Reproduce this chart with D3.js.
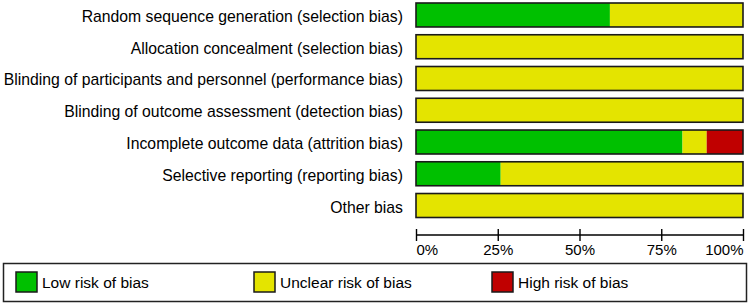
<!DOCTYPE html>
<html>
<head>
<meta charset="utf-8">
<script src="https://cdn.jsdelivr.net/npm/d3@7"></script>
<style>
  html, body { margin: 0; padding: 0; background: #fff; }
  svg { display: block; }
  text { font-family: "Liberation Sans", Arial, sans-serif; fill: #000; }
</style>
</head>
<body>
<svg id="chart" width="750" height="306"></svg>
<script>
// ---- Data (percent of studies) ----
const categories = [
  "Random sequence generation (selection bias)",
  "Allocation concealment (selection bias)",
  "Blinding of participants and personnel (performance bias)",
  "Blinding of outcome assessment (detection bias)",
  "Incomplete outcome data (attrition bias)",
  "Selective reporting (reporting bias)",
  "Other bias"
];
const lowRisk     = [59.3, 0, 0, 0, 81.5, 25.9, 0];
const unclearRisk = [40.7, 100, 100, 100, 7.4, 74.1, 100];
const highRisk    = [0, 0, 0, 0, 11.1, 0, 0];
const tickValues  = [0, 25, 50, 75, 100];
const tickLabels  = ["0%", "25%", "50%", "75%", "100%"];
const seriesKeys  = ["low", "unclear", "high"];
const seriesNames = ["Low risk of bias", "Unclear risk of bias", "High risk of bias"];
const seriesColors = ["#00C000", "#E4E400", "#C00000"];

// ---- Build ----
const rows = categories.map((c, i) => ({
  cat: c, low: lowRisk[i], unclear: unclearRisk[i], high: highRisk[i]
}));
const svg = d3.select("#chart");

const x = d3.scaleLinear().domain([0, 100]).range([416, 743]);
const y = d3.scaleBand().domain(categories).range([3, 217.5]).paddingInner(0.245).paddingOuter(0);
const color = d3.scaleOrdinal().domain(seriesKeys).range(seriesColors);

const stacked = d3.stack().keys(seriesKeys)(rows);

svg.append("g").selectAll("g")
  .data(stacked)
  .join("g")
  .attr("fill", d => color(d.key))
  .selectAll("rect")
  .data(d => d)
  .join("rect")
  .attr("x", d => x(d[0]))
  .attr("y", d => y(d.data.cat))
  .attr("width", d => Math.max(0, x(d[1]) - x(d[0])))
  .attr("height", y.bandwidth());

// outlines
svg.append("g").selectAll("rect")
  .data(rows)
  .join("rect")
  .attr("x", x(0))
  .attr("y", d => y(d.cat))
  .attr("width", x(100) - x(0))
  .attr("height", y.bandwidth())
  .attr("fill", "none")
  .attr("stroke", "#1a1a1a")
  .attr("stroke-width", 1.6);

// category labels
svg.append("g").selectAll("text")
  .data(categories)
  .join("text")
  .attr("x", 403)
  .attr("y", d => y(d) + y.bandwidth() / 2 + 7)
  .attr("text-anchor", "end")
  .style("font-size", "15.75px")
  .text(d => d);

// axis
const axisG = svg.append("g").attr("transform", "translate(0,235)");
axisG.call(d3.axisBottom(x).tickValues(tickValues).tickSize(6).tickSizeOuter(0).tickFormat((d, i) => tickLabels[i]));
axisG.select(".domain").attr("stroke", "#000").attr("stroke-width", 1.4).attr("d", `M${x(0)},0H${x(100)}`);
axisG.selectAll(".tick line").attr("y1", -6).attr("y2", 6).attr("stroke", "#000").attr("stroke-width", 1.4);
axisG.selectAll(".tick text")
  .attr("y", 20)
  .attr("dy", 0)
  .style("font-family", "'Liberation Sans', Arial, sans-serif")
  .style("font-size", "15px")
  .attr("text-anchor", (d, i) => i === 0 ? "start" : (i === tickValues.length - 1 ? "end" : "middle"))
  .attr("fill", "#000");

// legend
const legend = svg.append("g");
legend.append("rect")
  .attr("x", 3.5).attr("y", 263.5).attr("width", 743).attr("height", 38)
  .attr("fill", "#fff").attr("stroke", "#222").attr("stroke-width", 1.5);
const legendX = d3.scaleOrdinal().domain(seriesKeys).range([16, 254, 492]);
const items = legend.selectAll("g.item")
  .data(seriesKeys)
  .join("g")
  .attr("class", "item")
  .attr("transform", d => `translate(${legendX(d)},272)`);
items.append("rect")
  .attr("width", 21).attr("height", 20)
  .attr("fill", d => color(d))
  .attr("stroke", "#1a1a1a").attr("stroke-width", 1.5);
items.append("text")
  .attr("x", 26).attr("y", 16)
  .style("font-size", "15.5px")
  .text((d, i) => seriesNames[i]);
</script>
</body>
</html>
